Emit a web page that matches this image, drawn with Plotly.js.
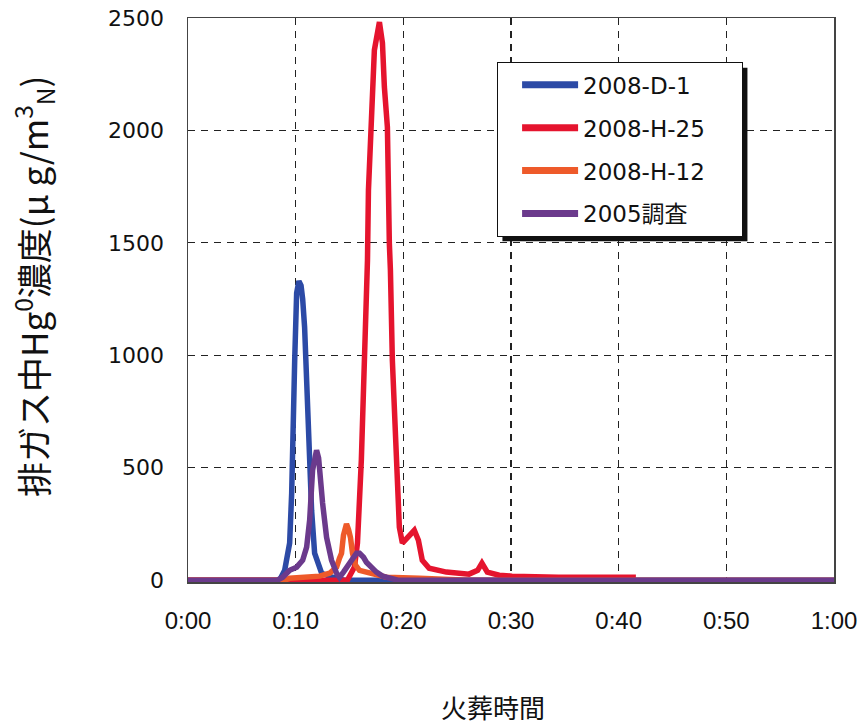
<!DOCTYPE html>
<html>
<head>
<meta charset="utf-8">
<script src="https://cdn.plot.ly/plotly-3.0.1.min.js"></script>
<style>html,body{margin:0;padding:0;background:#fff;}#chart{width:861px;height:724px;}</style>
</head>
<body>
<div id="chart"></div>
<script>
// ---- data (minutes since start, concentration μg/m3N) ----
const seriesNames = ['2008-D-1', '2008-H-25', '2008-H-12', '2005調査'];

const tD1 = [0, 8.5, 8.98, 9.44, 9.63, 9.72, 9.91, 10.09, 10.3, 10.5, 10.65, 10.83, 11.02, 11.30, 11.48, 11.76, 12.41, 13.43, 14.5, 60];
const vD1 = [0, 0, 44, 165, 387, 680, 979, 1277, 1330, 1310, 1250, 1125, 832, 534, 311, 120, 31, 13, 0, 0];

const tH25 = [0, 14.8, 15.46, 15.74, 16.1, 16.48, 16.67, 16.76, 17.13, 17.31, 17.78, 18.06, 18.24, 18.52, 18.7, 18.8, 18.98, 19.35, 19.63, 19.91, 20.5, 21.02, 21.4, 21.76, 22.4, 24.0, 26.1, 26.9, 27.3, 27.8, 28.9, 30.1, 34.4, 41.6];
const vH25 = [0, 0, 58, 165, 534, 1054, 1423, 1735, 2166, 2357, 2482, 2389, 2193, 2015, 1499, 1379, 979, 534, 236, 165, 200, 222, 178, 89, 53, 36, 27, 44, 76, 36, 22, 18, 13, 13];

const tH12 = [0, 9.0, 9.44, 10.37, 12.22, 13.15, 13.8, 14.07, 14.26, 14.44, 14.72, 14.91, 15.09, 15.28, 15.56, 15.93, 16.85, 18.43, 21.5, 24.3, 26, 60];
const vH12 = [0, 0, 9, 13, 18, 31, 58, 98, 120, 200, 250, 225, 190, 120, 67, 44, 31, 13, 9, 5, 0, 0];

const t2005 = [0, 8.3, 8.8, 9.44, 10.09, 10.65, 11.02, 11.30, 11.57, 11.76, 11.94, 12.13, 12.22, 12.5, 12.87, 13.33, 13.8, 14.07, 14.44, 14.72, 15.19, 15.65, 15.93, 16.3, 16.57, 17.04, 17.5, 18.06, 18.7, 19.5, 60];
const v2005 = [0, 0, 13, 44, 58, 89, 147, 267, 489, 556, 578, 543, 489, 343, 191, 89, 31, 13, 36, 58, 89, 120, 120, 102, 80, 53, 36, 18, 9, 0, 0];

const xTickVals = [0, 10, 20, 30, 40, 50, 60];
const xTickText = ['0:00', '0:10', '0:20', '0:30', '0:40', '0:50', '1:00'];
const yTickVals = [0, 500, 1000, 1500, 2000, 2500];

const xTitle = '火葬時間';
const yTitle = '排ガス中Hg<sup>0</sup>濃度(μ g/m<sup>3</sup><sub>N</sub>)';

const colors = ['#2c4aa6', '#e5142e', '#ee5a2a', '#6b3a8c'];

// ---- traces ----
const xs = [tD1, tH25, tH12, t2005];
const ys = [vD1, vH25, vH12, v2005];
const traces = seriesNames.map((n, i) => ({
  type: 'scatter', mode: 'lines', name: n, x: xs[i], y: ys[i],
  legendgroup: 'g' + i,
  line: {color: colors[i], width: 5.5}
}));

const gridStyle = {showgrid: true, gridcolor: '#222', gridwidth: 1.2, griddash: '7px,6px'};

const layout = {
  width: 861, height: 724,
  margin: {l: 188, r: 27, t: 18, b: 142},
  paper_bgcolor: '#fff', plot_bgcolor: '#fff',
  showlegend: true,
  legend: {
    x: 0.478, y: 0.922, xanchor: 'left', yanchor: 'top',
    bgcolor: '#fff', bordercolor: '#111', borderwidth: 1.3,
    font: {family: 'DejaVu Sans, Noto Sans CJK JP, sans-serif', size: 23, color: '#111'},
    tracegroupgap: 10, itemwidth: 75
  },
  xaxis: Object.assign({
    range: [0, 60], tickmode: 'array', tickvals: xTickVals, ticktext: xTickText,
    ticks: '', showline: true, mirror: true, linecolor: '#444', linewidth: 1.5,
    zeroline: false, ticklabelstandoff: 17,
    tickfont: {family: 'Liberation Sans Narrow, Arial Narrow, Liberation Sans, sans-serif', size: 24, color: '#111'}
  }, gridStyle),
  yaxis: Object.assign({
    range: [-8, 2500], tickmode: 'array', tickvals: yTickVals,
    ticks: '', showline: true, mirror: true, linecolor: '#444', linewidth: 1.5,
    zeroline: false, ticklabelstandoff: 18,
    tickfont: {family: 'DejaVu Sans, sans-serif', size: 22, color: '#111'}
  }, gridStyle),
  annotations: [
    {text: yTitle, xref: 'paper', yref: 'paper', x: (33 - 188) / 646, y: (582 - 287) / 564,
     textangle: -90, showarrow: false, xanchor: 'center', yanchor: 'middle',
     font: {family: 'Noto Sans CJK JP, sans-serif', size: 35, color: '#111'}},
    {text: xTitle, xref: 'paper', yref: 'paper', x: (493 - 188) / 646, y: (582 - 706) / 564,
     showarrow: false, xanchor: 'center', yanchor: 'middle',
     font: {family: 'Noto Sans CJK JP, sans-serif', size: 26, color: '#111'}}
  ]
};

const LEGEND_W = 245;

function fixLegend(gd) {
  gd.querySelectorAll('.legend .legendlines path').forEach(p => {
    p.setAttribute('d', 'M24,0h56');
    p.style.strokeWidth = '7px';
  });
  const bg = gd.querySelector('.legend .bg');
  if (bg) bg.setAttribute('width', LEGEND_W);
}

Plotly.newPlot('chart', traces, layout, {displayModeBar: false, staticPlot: true}).then(gd => {
  const bg = gd.querySelector('.legend .bg');
  if (!bg) return gd;
  const r = bg.getBoundingClientRect();
  const g = gd.getBoundingClientRect();
  const s = gd._fullLayout._size;
  const px = v => (v - g.left - s.l) / s.w;
  const py = v => 1 - (v - g.top - s.t) / s.h;
  const off = 5;
  return Plotly.relayout(gd, {shapes: [{
    type: 'rect', xref: 'paper', yref: 'paper', layer: 'above',
    x0: px(r.left + off), x1: px(r.left + LEGEND_W + off), y0: py(r.bottom + off), y1: py(r.top + off),
    fillcolor: '#111', line: {width: 0}
  }]});
}).then(() => { fixLegend(document.getElementById('chart')); });
</script>
</body>
</html>
